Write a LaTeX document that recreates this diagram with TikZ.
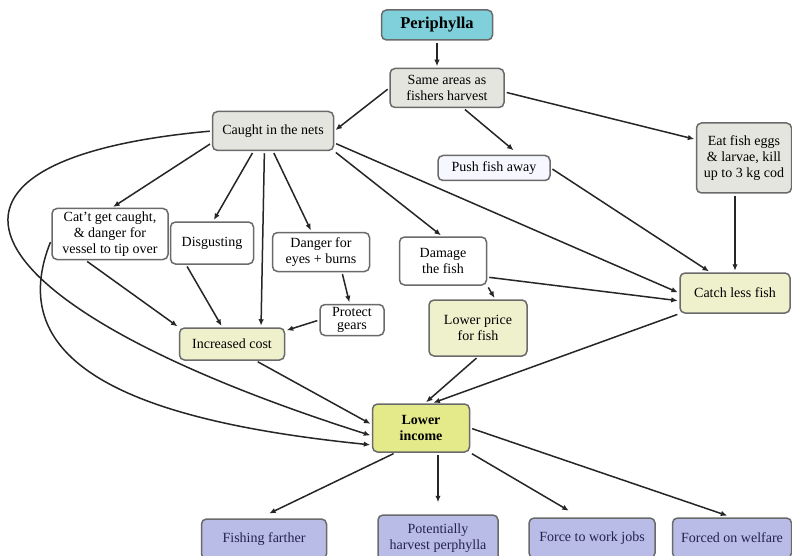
\documentclass[tikz,border=0pt]{standalone}
\usepackage{fontspec}
\setmainfont{Liberation Serif}
\usetikzlibrary{arrows.meta}
\definecolor{peribox}{HTML}{7FD0DA}
\definecolor{greybox}{HTML}{E5E5E0}
\definecolor{paleyellow}{HTML}{EFF1CC}
\definecolor{incomeyellow}{HTML}{E4E98A}
\definecolor{lavender}{HTML}{B9BCE6}
\definecolor{edgegrey}{HTML}{6A6A6A}
\definecolor{navytext}{HTML}{23234F}
\tikzset{
  box/.style={draw=edgegrey, line width=1.5pt, rounded corners=5pt, align=center,
    inner sep=2pt, fill=white, font=\fontsize{14}{16}\selectfont},
  greynode/.style={box, fill=greybox},
  yellownode/.style={box, fill=paleyellow},
  outcome/.style={box, fill=lavender, text=navytext},
  link/.style={-{Latex[length=6.5pt,width=5.5pt]}, line width=1.5pt, draw=black!85,
    shorten >=1.5pt, shorten <=2pt},
}
\begin{document}
\begin{tikzpicture}[x=1pt,y=-1pt]
    \useasboundingbox[fill=white] (0,0) rectangle (792,556);

    \node[box, fill=peribox, font=\bfseries\fontsize{16.5}{18}\selectfont,
      minimum width=111pt, minimum height=30pt] (peri) at (437,25) {Periphylla};
    \node[greynode, minimum width=114pt, minimum height=39pt] (same) at (447,88) {Same areas as\\fishers harvest};
    \node[greynode, minimum width=121pt, minimum height=39pt] (caught) at (273,131) {Caught in the nets};
    \node[box, fill=blue!3, minimum width=112pt, minimum height=25pt] (push) at (494,168) {Push fish away};
    \node[greynode, minimum width=95pt, minimum height=70pt] (eat) at (744,158) {Eat fish eggs\\\& larvae, kill\\up to 3 kg cod};

    \node[box, minimum width=116pt, minimum height=51pt] (cant) at (110,234) {Cat't get caught,\\\& danger for\\vessel to tip over};
    \node[box, minimum width=83pt, minimum height=42pt] (disg) at (212,243) {Disgusting};
    \node[box, minimum width=97pt, minimum height=39pt] (danger) at (321,252) {Danger for\\eyes + burns};
    \node[box, minimum width=87pt, minimum height=48pt] (damage) at (443,261) {Damage\\the fish};
    \node[box, inner sep=0pt, minimum width=64pt, minimum height=31pt,
      font=\fontsize{14}{13}\selectfont] (protect) at (352,320) {Protect\\gears};

    \node[yellownode, minimum width=105pt, minimum height=32pt] (incr) at (232,344) {Increased cost};
    \node[yellownode, minimum width=98pt, minimum height=56pt] (price) at (478,328) {Lower price\\for fish};
    \node[yellownode, minimum width=110pt, minimum height=40pt] (catch) at (735,293) {Catch less fish};
    \node[box, fill=incomeyellow, font=\bfseries\fontsize{14}{16}\selectfont,
      minimum width=97pt, minimum height=48pt] (income) at (421,428) {Lower\\income};

    \node[outcome, minimum width=125pt, minimum height=40pt] (farther) at (264,539) {Fishing farther};
    \node[outcome, minimum width=120pt, minimum height=46pt] (harvest) at (438,538) {Potentially\\harvest perphylla};
    \node[outcome, minimum width=126pt, minimum height=40pt] (jobs) at (592,538) {Force to work jobs};
    \node[outcome, minimum width=119pt, minimum height=40pt] (welfare) at (732,538) {Forced on welfare};

    \draw[link] (peri.south) -- (peri.south |- same.north);
    \draw[link] (same.west) -- (caught.east);
    \draw[link, shorten >=7pt] (same.-51) -- (push.28);
    \draw[link] (same.-4) -- (eat.159);

    \draw[link] (caught.191) -- (cant.86);
    \draw[link] (caught.-134) -- (disg.87);
    \draw[link] (caught.-113) -- (incr.30);
    \draw[link] (caught.south) -- (danger.115);
    \draw[link] (caught.south east) -- (damage.92);
    \draw[link] (caught.-11) -- (catch.west);
    \draw[link] (caught.west) .. controls +(-322,29) and +(-415,-132) .. (income.-171);
    \draw[link] (cant.186) .. controls +(-53,132) and +(-217,-22) .. (income.-161);

    \draw[link] (cant.-133) -- (incr.north west);
    \draw[link] (disg.-140) -- (incr.120);
    \draw[link] (danger.-44) -- (protect.98);
    \draw[link] (protect.west) -- (incr.14);
    \draw[link] (push.east) -- (catch.140);
    \draw[link] (catch.north |- eat.south) -- (catch.north);
    \draw[link] (damage.-20) -- (catch.-172);
    \draw[link] (damage.south east) -- (price.59);

    \draw[link] (price.south) -- (income.81);
    \draw[link] (catch.south west) -- (income.66);
    \draw[link] (incr.-35) -- (income.176);

    \draw[link, shorten >=11pt] (income.-136) -- (farther.103);
    \draw[link, shorten >=12pt] (harvest.north |- income.south) -- (harvest.north);
    \draw[link, shorten >=13pt] (income.south east) -- (jobs.120);
    \draw[link, shorten >=5pt] (income.east) -- (welfare.north);
\end{tikzpicture}
\end{document}
